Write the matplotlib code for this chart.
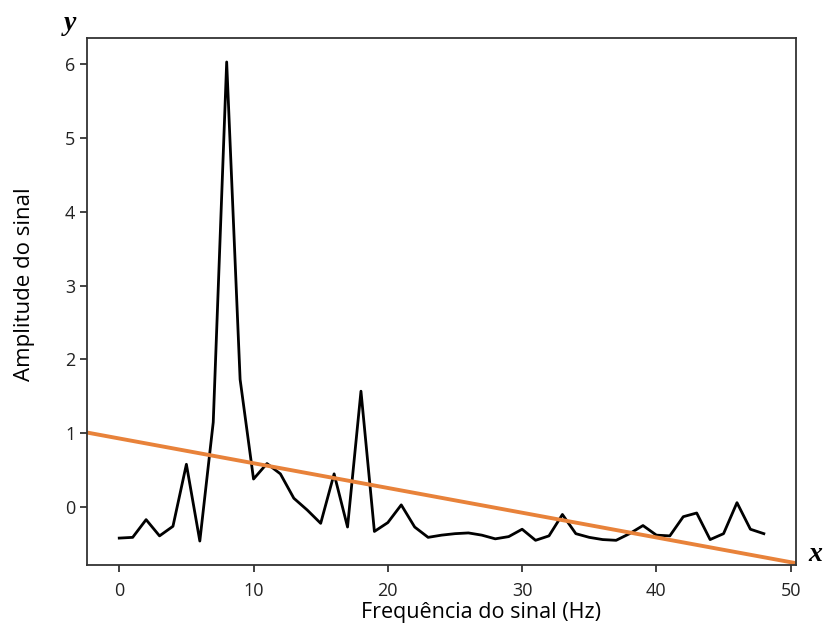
import matplotlib.pyplot as plt

# frequency bins (Hz) and signal amplitude
freq = list(range(49))
amplitude = [
    -0.42, -0.41, -0.17, -0.39, -0.26, 0.58, -0.46, 1.15, 6.03, 1.73,
    0.38, 0.59, 0.45, 0.12, -0.04, -0.22, 0.45, -0.27, 1.57, -0.33,
    -0.21, 0.03, -0.27, -0.41, -0.38, -0.36, -0.35, -0.38, -0.43, -0.40,
    -0.30, -0.45, -0.39, -0.10, -0.36, -0.41, -0.44, -0.45, -0.36, -0.25,
    -0.38, -0.39, -0.13, -0.08, -0.44, -0.36, 0.06, -0.30, -0.36,
]

# orange reference line, two points
line_x = [-2.4, 50.4]
line_y = [1.01, -0.76]

x_ticks = [0, 10, 20, 30, 40, 50]
y_ticks = [0, 1, 2, 3, 4, 5, 6]

plt.rcParams['font.family'] = ['Open Sans', 'DejaVu Sans']


def padded(vals, frac=0.05):
    lo, hi = min(vals), max(vals)
    pad = (hi - lo) * frac
    return lo - pad, hi + pad


def main():
    fig = plt.figure(figsize=(8.24, 6.39), dpi=100)
    ax = fig.add_axes([0.1056, 0.1158, 0.8605, 0.8247])

    ax.plot(freq, amplitude, color='black', linewidth=2.0)
    ax.axline((line_x[0], line_y[0]), (line_x[1], line_y[1]),
              color='#e8823a', linewidth=2.8)
    # limits follow the black curve only, like the default margins
    ax.set_xlim(*padded(freq))
    ax.set_ylim(*padded(amplitude))

    ax.set_xticks(x_ticks)
    ax.set_yticks(y_ticks)
    ax.tick_params(labelsize=13, length=5, width=1.2, colors='#222222')
    ax.tick_params(axis='x', pad=7.5)
    for s in ax.spines.values():
        s.set_linewidth(1.3)
        s.set_color('#333333')

    ax.set_xlabel('Frequência do sinal (Hz)', fontsize=15.5)
    ax.set_ylabel('Amplitude do sinal', fontsize=16)
    # the labels sit a bit off-centre in the reference
    ax.xaxis.set_label_coords(0.556, -0.071)
    ax.yaxis.set_label_coords(-0.073, 0.533)

    fig.text(0.085, 0.963, 'y', family='Liberation Serif', style='italic',
             weight='bold', fontsize=20, ha='center', va='center')
    fig.text(0.99, 0.133, 'x', family='Liberation Serif', style='italic',
             weight='bold', fontsize=20, ha='center', va='center')

    fig.savefig('out.png', dpi=100)


if __name__ == '__main__':
    main()
